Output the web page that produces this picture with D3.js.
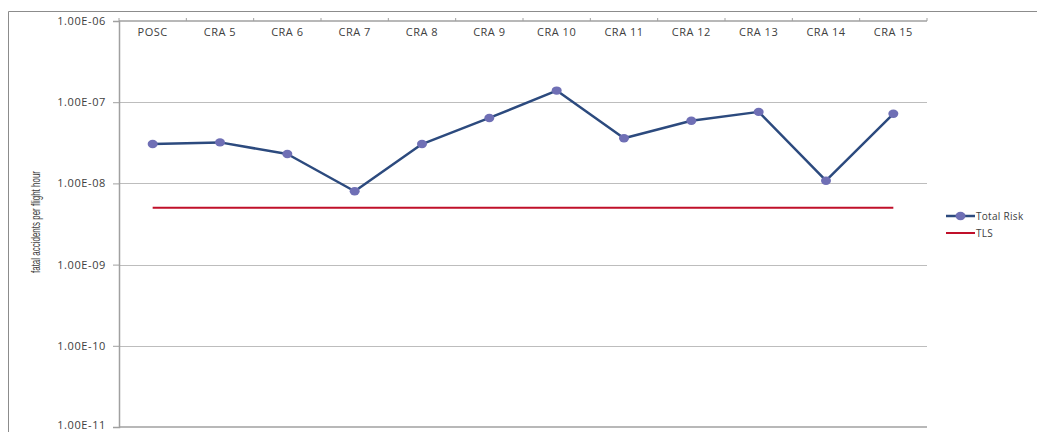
<!DOCTYPE html>
<html>
<head>
<meta charset="utf-8">
<script src="https://cdn.jsdelivr.net/npm/d3@7"></script>
<style>
  html, body { margin: 0; padding: 0; background: #fff; }
  svg { display: block; }
  text { font-family: "Open Sans", "Liberation Sans", sans-serif; fill: #404040; }
</style>
</head>
<body>
<svg id="chart" width="1037" height="432"></svg>
<script>
// Categories (top axis)
const categories = ["POSC", "CRA 5", "CRA 6", "CRA 7", "CRA 8", "CRA 9", "CRA 10", "CRA 11", "CRA 12", "CRA 13", "CRA 14", "CRA 15"];
// Total risk, fatal accidents per flight hour
const totalRisk = [3.05e-8, 3.2e-8, 2.3e-8, 8.0e-9, 3.05e-8, 6.4e-8, 1.39e-7, 3.6e-8, 5.9e-8, 7.6e-8, 1.08e-8, 7.2e-8];
// Target level of safety
const tls = [5e-9, 5e-9, 5e-9, 5e-9, 5e-9, 5e-9, 5e-9, 5e-9, 5e-9, 5e-9, 5e-9, 5e-9];
// Y axis ticks
const yTicks = [1e-6, 1e-7, 1e-8, 1e-9, 1e-10, 1e-11];
const yTickLabels = ["1.00E-06", "1.00E-07", "1.00E-08", "1.00E-09", "1.00E-10", "1.00E-11"];
const seriesNames = ["Total Risk", "TLS"];

const svg = d3.select("#chart");
const m = { left: 119, right: 927, top: 21, bottom: 427 };

// Chart frame
svg.append("path")
  .attr("d", `M8.5,432 V11.5 H1037`)
  .attr("fill", "none").attr("stroke", "#8c8c8c").attr("stroke-width", 1);

const x = d3.scaleBand().domain(categories).range([m.left, m.right]);
const y = d3.scaleLog().domain([1e-11, 1e-6]).range([m.bottom, m.top]);

// Horizontal gridlines
svg.append("g").selectAll("line").data(yTicks.slice(1, -1)).join("line")
  .attr("x1", m.left).attr("x2", m.right)
  .attr("y1", d => Math.round(y(d)) + 0.5).attr("y2", d => Math.round(y(d)) + 0.5)
  .attr("stroke", "#bdbdbd").attr("stroke-width", 1);

// Left value axis
const yAxis = d3.axisLeft(y).tickValues(yTicks)
  .tickFormat((d, i) => yTickLabels[i]).tickSize(6).tickPadding(7);
const gy = svg.append("g").attr("transform", `translate(${m.left},0)`).call(yAxis);
gy.select(".domain").attr("stroke", "#a0a0a0").attr("stroke-width", 1.5);
gy.selectAll(".tick line").attr("stroke", "#a0a0a0");
gy.selectAll(".tick text").style("font-size", "11px").style("letter-spacing", "0.6px")
  .attr("fill", "#404040")
  .attr("dy", (d, i) => i === yTicks.length - 1 ? "0.1em" : "0.32em");

// Bottom edge line
svg.append("line").attr("x1", m.left).attr("x2", m.right)
  .attr("y1", m.bottom).attr("y2", m.bottom)
  .attr("stroke", "#a0a0a0").attr("stroke-width", 1.5);

// Top category axis with boundary ticks
const gx = svg.append("g").attr("transform", `translate(0,${m.top})`);
gx.append("line").attr("x1", m.left).attr("x2", m.right).attr("y1", 0).attr("y2", 0)
  .attr("stroke", "#a0a0a0").attr("stroke-width", 1.5);
const bounds = categories.map(c => x(c)).concat([m.right]);
gx.selectAll("line.tk").data(bounds).join("line").attr("class", "tk")
  .attr("x1", d => d).attr("x2", d => d).attr("y1", 0).attr("y2", -3)
  .attr("stroke", "#a0a0a0");
gx.selectAll("text").data(categories).join("text")
  .attr("x", d => x(d) + x.bandwidth() / 2).attr("y", 15)
  .attr("text-anchor", "middle").style("font-size", "11px").style("letter-spacing", "0.5px")
  .text(d => d);

// Y axis title (condensed)
svg.append("text")
  .attr("transform", "translate(40,222) rotate(-90)")
  .attr("text-anchor", "middle")
  .attr("textLength", 102).attr("lengthAdjust", "spacingAndGlyphs")
  .style("font-family", "'Liberation Sans Narrow', 'Liberation Sans', sans-serif")
  .style("font-size", "13px").attr("fill", "#202020")
  .text("fatal accidents per flight hour");

const cx = (d, i) => x(categories[i]) + x.bandwidth() / 2;

// TLS line
svg.append("path").datum(tls)
  .attr("d", d3.line().x(cx).y(d => y(d)))
  .attr("fill", "none").attr("stroke", "#c0102a").attr("stroke-width", 2);

// Total risk line and markers
svg.append("path").datum(totalRisk)
  .attr("d", d3.line().x(cx).y(d => y(d)))
  .attr("fill", "none").attr("stroke", "#2c4a7e").attr("stroke-width", 2.5)
  .attr("stroke-linejoin", "round");
svg.append("g").selectAll("ellipse").data(totalRisk).join("ellipse")
  .attr("cx", cx).attr("cy", d => y(d)).attr("rx", 5).attr("ry", 4.2)
  .attr("fill", "#6f6fb5");

// Legend
const lg = svg.append("g").attr("transform", "translate(946,216)");
lg.append("line").attr("x1", 0).attr("x2", 29).attr("y1", 0).attr("y2", 0)
  .attr("stroke", "#2c4a7e").attr("stroke-width", 2.5);
lg.append("ellipse").attr("cx", 14.5).attr("cy", 0).attr("rx", 5).attr("ry", 4.2).attr("fill", "#6f6fb5");
lg.append("text").attr("x", 30).attr("y", 3.5).style("font-size", "10px").style("letter-spacing", "0.3px").text(seriesNames[0]);
lg.append("line").attr("x1", 0).attr("x2", 29).attr("y1", 17).attr("y2", 17)
  .attr("stroke", "#c0102a").attr("stroke-width", 2);
lg.append("text").attr("x", 30).attr("y", 20.5).style("font-size", "10px").style("letter-spacing", "0.3px").text(seriesNames[1]);
</script>
</body>
</html>
